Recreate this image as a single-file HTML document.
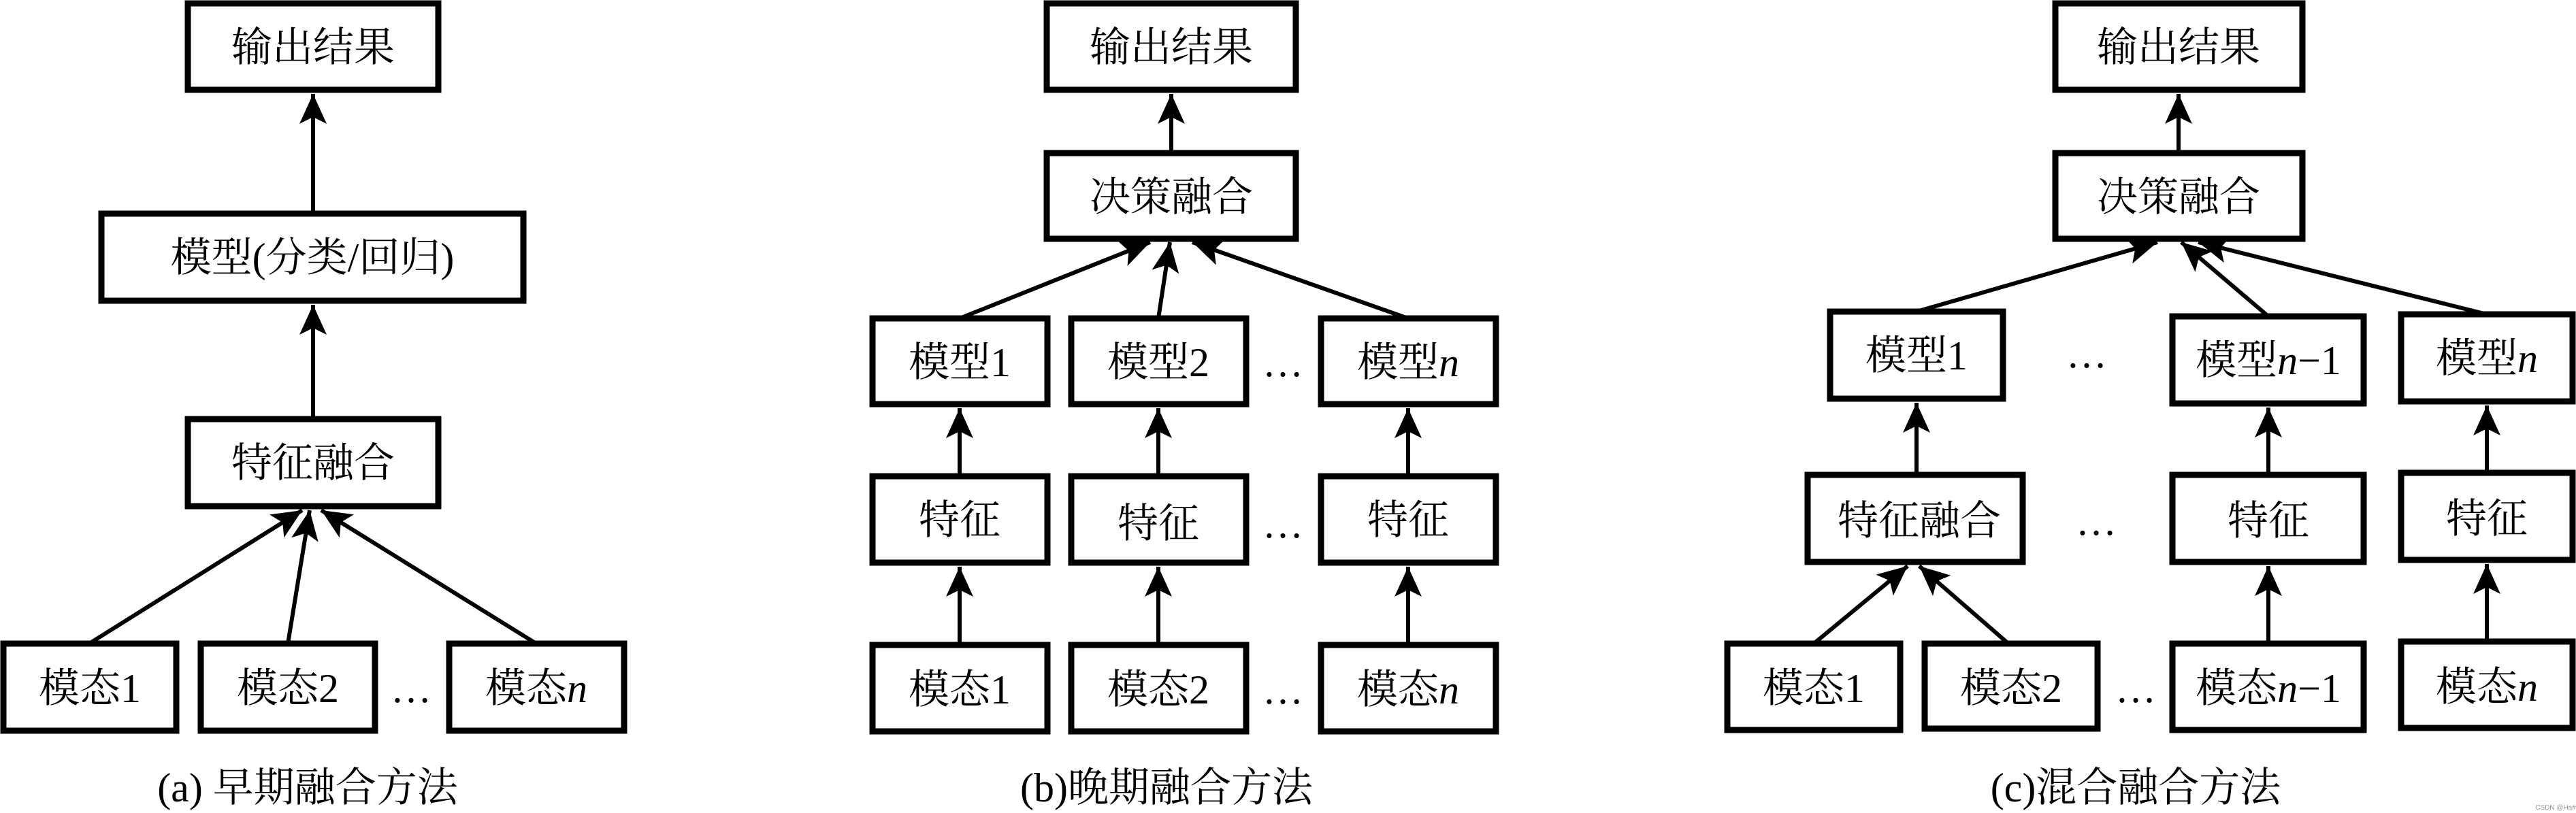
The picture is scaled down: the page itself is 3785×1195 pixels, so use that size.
<!DOCTYPE html>
<html><head><meta charset="utf-8"><style>
html,body{margin:0;padding:0;background:#fff;}
svg{display:block;}
text{font-family:"Liberation Serif","Noto Serif CJK SC",serif;font-size:60px;fill:#000;text-anchor:middle;}
.b{fill:#fff;stroke:#000;stroke-width:9;}
.l{stroke:#000;stroke-width:6;fill:none;}
</style></head><body>
<svg width="3785" height="1195" viewBox="0 0 3785 1195" xmlns="http://www.w3.org/2000/svg">
<defs>
<marker id="a" markerUnits="userSpaceOnUse" markerWidth="44" markerHeight="50" refX="44" refY="20" orient="auto" viewBox="0 0 44 40">
<path d="M0,0 L44,20 L0,40 L10,20 Z" fill="#000"/>
</marker>
</defs>

<!-- Panel a -->
<rect class="b" x="276" y="5" width="368" height="127"/><text x="460" y="90">输出结果</text>
<rect class="b" x="149" y="314" width="620" height="128"/><text x="459" y="399">模型(分类/回归)</text>
<rect class="b" x="276" y="616" width="368" height="128"/><text x="460" y="701">特征融合</text>
<rect class="b" x="5" y="946" width="254" height="128"/><text x="132" y="1032">模态1</text>
<rect class="b" x="295" y="946" width="256" height="128"/><text x="423" y="1032">模态2</text>
<rect class="b" x="660" y="946" width="257" height="128"/><text x="788" y="1032">模态<tspan font-style="italic">n</tspan></text>
<text x="604" y="1032">…</text>
<line class="l" x1="460" y1="314" x2="460" y2="138" marker-end="url(#a)"/>
<line class="l" x1="460" y1="616" x2="460" y2="448" marker-end="url(#a)"/>
<line class="l" x1="131" y1="946" x2="444" y2="750" marker-end="url(#a)"/>
<line class="l" x1="423" y1="946" x2="455" y2="750" marker-end="url(#a)"/>
<line class="l" x1="788" y1="946" x2="472" y2="750" marker-end="url(#a)"/>
<text x="452" y="1178">(a) 早期融合方法</text>

<!-- Panel b -->
<rect class="b" x="1538" y="5" width="366" height="127"/><text x="1721" y="90">输出结果</text>
<rect class="b" x="1538" y="225" width="366" height="126"/><text x="1721" y="310">决策融合</text>
<rect class="b" x="1282" y="468" width="257" height="126"/><text x="1410" y="553">模型1</text>
<rect class="b" x="1574" y="468" width="257" height="126"/><text x="1702" y="553">模型2</text>
<rect class="b" x="1941" y="468" width="257" height="126"/><text x="2069" y="553">模型<tspan font-style="italic">n</tspan></text>
<rect class="b" x="1282" y="700" width="257" height="127"/><text x="1410" y="785">特征</text>
<rect class="b" x="1574" y="700" width="257" height="127"/><text x="1702" y="790">特征</text>
<rect class="b" x="1941" y="700" width="257" height="127"/><text x="2069" y="785">特征</text>
<rect class="b" x="1282" y="948" width="257" height="127"/><text x="1410" y="1034">模态1</text>
<rect class="b" x="1574" y="948" width="257" height="127"/><text x="1702" y="1034">模态2</text>
<rect class="b" x="1941" y="948" width="257" height="127"/><text x="2069" y="1034">模态<tspan font-style="italic">n</tspan></text>
<text x="1885" y="553">…</text><text x="1885" y="790">…</text><text x="1885" y="1034">…</text>
<line class="l" x1="1721" y1="225" x2="1721" y2="138" marker-end="url(#a)"/>
<line class="l" x1="1410" y1="468" x2="1690" y2="356" marker-end="url(#a)"/>
<line class="l" x1="1702" y1="468" x2="1719" y2="356" marker-end="url(#a)"/>
<line class="l" x1="2069" y1="468" x2="1752" y2="356" marker-end="url(#a)"/>
<line class="l" x1="1410" y1="700" x2="1410" y2="600" marker-end="url(#a)"/>
<line class="l" x1="1702" y1="700" x2="1702" y2="600" marker-end="url(#a)"/>
<line class="l" x1="2069" y1="700" x2="2069" y2="600" marker-end="url(#a)"/>
<line class="l" x1="1410" y1="948" x2="1410" y2="833" marker-end="url(#a)"/>
<line class="l" x1="1702" y1="948" x2="1702" y2="833" marker-end="url(#a)"/>
<line class="l" x1="2069" y1="948" x2="2069" y2="833" marker-end="url(#a)"/>
<text x="1714" y="1178">(b)晚期融合方法</text>

<!-- Panel c -->
<rect class="b" x="3020" y="5" width="363" height="127"/><text x="3201" y="90">输出结果</text>
<rect class="b" x="3020" y="225" width="363" height="126"/><text x="3201" y="310">决策融合</text>
<rect class="b" x="2689" y="458" width="254" height="128"/><text x="2816" y="543">模型1</text>
<rect class="b" x="3192" y="465" width="281" height="128"/><text x="3333" y="550">模型<tspan font-style="italic">n</tspan>−1</text>
<rect class="b" x="3528" y="462" width="252" height="128"/><text x="3654" y="547">模型<tspan font-style="italic">n</tspan></text>
<rect class="b" x="2656" y="698" width="316" height="128"/><text x="2820" y="786">特征融合</text>
<rect class="b" x="3192" y="698" width="281" height="128"/><text x="3333" y="786">特征</text>
<rect class="b" x="3528" y="695" width="252" height="128"/><text x="3654" y="783">特征</text>
<rect class="b" x="2538" y="946" width="254" height="127"/><text x="2665" y="1032">模态1</text>
<rect class="b" x="2828" y="946" width="254" height="125"/><text x="2955" y="1032">模态2</text>
<rect class="b" x="3192" y="946" width="281" height="127"/><text x="3333" y="1032">模态<tspan font-style="italic">n</tspan>−1</text>
<rect class="b" x="3528" y="943" width="252" height="127"/><text x="3654" y="1030">模态<tspan font-style="italic">n</tspan></text>
<text x="3066" y="540">…</text><text x="3080" y="786">…</text><text x="3138" y="1032">…</text>
<line class="l" x1="3201" y1="225" x2="3201" y2="138" marker-end="url(#a)"/>
<line class="l" x1="2816" y1="458" x2="3170" y2="356" marker-end="url(#a)"/>
<line class="l" x1="3333" y1="465" x2="3205" y2="356" marker-end="url(#a)"/>
<line class="l" x1="3654" y1="462" x2="3230" y2="356" marker-end="url(#a)"/>
<line class="l" x1="2816" y1="698" x2="2816" y2="592" marker-end="url(#a)"/>
<line class="l" x1="3333" y1="698" x2="3333" y2="599" marker-end="url(#a)"/>
<line class="l" x1="3654" y1="695" x2="3654" y2="596" marker-end="url(#a)"/>
<line class="l" x1="2665" y1="946" x2="2803" y2="832" marker-end="url(#a)"/>
<line class="l" x1="2951" y1="946" x2="2820" y2="832" marker-end="url(#a)"/>
<line class="l" x1="3333" y1="946" x2="3333" y2="832" marker-end="url(#a)"/>
<line class="l" x1="3654" y1="943" x2="3654" y2="829" marker-end="url(#a)"/>
<text x="3138" y="1178">(c)混合融合方法</text>
<text x="3755" y="1190" style="font-size:10px;fill:#999;font-family:'Liberation Sans',sans-serif">CSDN @Ha#</text>
</svg>
</body></html>
